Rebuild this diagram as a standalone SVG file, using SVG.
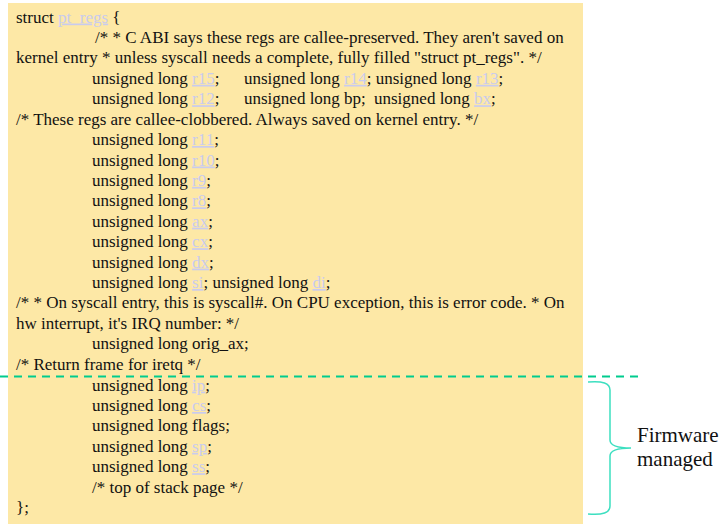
<svg xmlns="http://www.w3.org/2000/svg" width="721" height="524" viewBox="0 0 721 524">
<style>
  .t { font-family: "Liberation Serif", "Times New Roman", serif; font-size: 17px; fill: #111; }
  .l { fill: #c9cbee; text-decoration: underline; }
  .lbl { font-family: "Liberation Serif", "Times New Roman", serif; font-size: 21px; fill: #111; }
  .dash { stroke: #00cc8e; stroke-width: 2; stroke-dasharray: 8 6; fill: none; }
  .brace { stroke: #3ddfc0; stroke-width: 1.5; fill: none; }
</style>
<rect x="0" y="0" width="721" height="524" fill="#ffffff"/>
<g id="code-block">
  <rect x="8" y="3" width="575" height="521" fill="#fde8a6"/>
  <text class="t" x="16" y="22.5">struct <tspan class="l">pt_regs</tspan> {</text>
  <text class="t" x="95" y="43">/* * C ABI says these regs are callee-preserved. They aren't saved on</text>
  <text class="t" x="16" y="63.3">kernel entry * unless syscall needs a complete, fully filled "struct pt_regs". */</text>
  <text class="t" x="92" y="83.8">unsigned long <tspan class="l">r15</tspan>;</text>
  <text class="t" x="244" y="83.8">unsigned long <tspan class="l">r14</tspan>; unsigned long <tspan class="l">r13</tspan>;</text>
  <text class="t" x="92" y="104.2">unsigned long <tspan class="l">r12</tspan>;</text>
  <text class="t" x="244" y="104.2">unsigned long bp;</text>
  <text class="t" x="374" y="104.2">unsigned long <tspan class="l">bx</tspan>;</text>
  <text class="t" x="16" y="124.6">/* These regs are callee-clobbered. Always saved on kernel entry. */</text>
  <text class="t" x="92" y="145">unsigned long <tspan class="l">r11</tspan>;</text>
  <text class="t" x="92" y="165.5">unsigned long <tspan class="l">r10</tspan>;</text>
  <text class="t" x="92" y="185.9">unsigned long <tspan class="l">r9</tspan>;</text>
  <text class="t" x="92" y="206.3">unsigned long <tspan class="l">r8</tspan>;</text>
  <text class="t" x="92" y="226.7">unsigned long <tspan class="l">ax</tspan>;</text>
  <text class="t" x="92" y="247.2">unsigned long <tspan class="l">cx</tspan>;</text>
  <text class="t" x="92" y="267.6">unsigned long <tspan class="l">dx</tspan>;</text>
  <text class="t" x="92" y="288">unsigned long <tspan class="l">si</tspan>; unsigned long <tspan class="l">di</tspan>;</text>
  <text class="t" x="16" y="308.4">/* * On syscall entry, this is syscall#. On CPU exception, this is error code. * On</text>
  <text class="t" x="16" y="328.8">hw interrupt, it's IRQ number: */</text>
  <text class="t" x="92" y="349.3">unsigned long orig_ax;</text>
  <text class="t" x="16" y="369.7">/* Return frame for iretq */</text>
  <text class="t" x="92" y="390.6">unsigned long <tspan class="l">ip</tspan>;</text>
  <text class="t" x="92" y="411">unsigned long <tspan class="l">cs</tspan>;</text>
  <text class="t" x="92" y="431.4">unsigned long flags;</text>
  <text class="t" x="92" y="451.8">unsigned long <tspan class="l">sp</tspan>;</text>
  <text class="t" x="92" y="472.2">unsigned long <tspan class="l">ss</tspan>;</text>
  <text class="t" x="92" y="492.6">/* top of stack page */</text>
  <text class="t" x="16" y="512.5">};</text>
</g>
<g id="firmware-label">
  <text class="lbl" x="637" y="442">Firmware</text>
  <text class="lbl" x="637" y="466">managed</text>
</g>
<g id="connectors">
  <line class="dash" x1="0" y1="376.5" x2="638" y2="376.5"/>
  <path class="brace" d="M588,382 Q610,380 610,390 L610,440 Q610,448 631,448 Q610,448 610,456 L610,506 Q610,516 588,514"/>
</g>
</svg>
